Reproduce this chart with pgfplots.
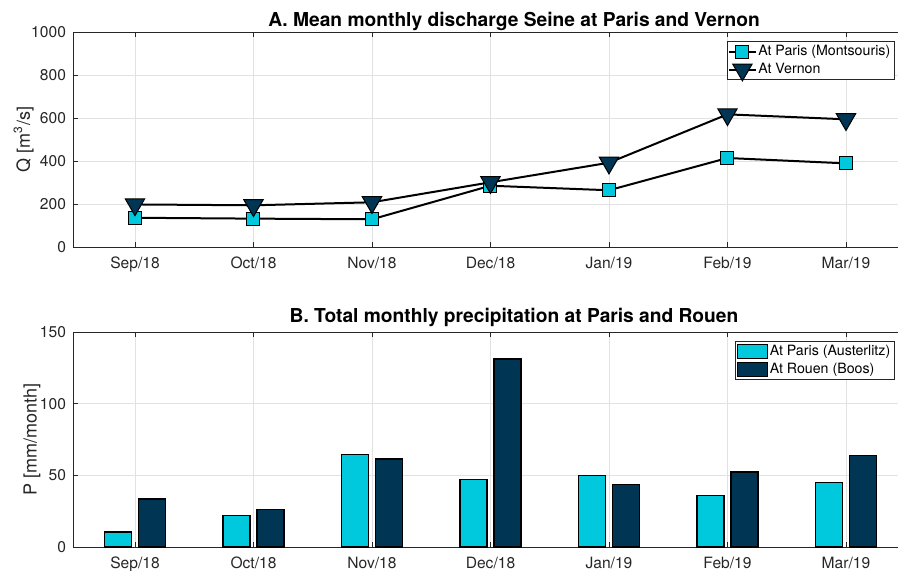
\documentclass[border=0pt]{standalone}
\usepackage{fontspec}
\setmainfont{TeX Gyre Heros}
\usepackage{pgfplots}
\pgfplotsset{compat=1.18}
\definecolor{mcyan}{RGB}{0,201,222}
\definecolor{mnavy}{RGB}{0,53,84}
\definecolor{mgray}{RGB}{38,38,38}
\definecolor{mgrid}{RGB}{226,226,226}
\pgfplotsset{
 base/.style={
  scale only axis, width=441pt, height=107.5pt, anchor=north west,
  xmin=0.477, xmax=7.92,
  xtick={1,...,7}, xticklabels={Sep/18,Oct/18,Nov/18,Dec/18,Jan/19,Feb/19,Mar/19},
  tick align=inside, major tick length=2.5pt,
  grid=major, grid style={mgrid, line width=0.4pt},
  axis line style={mgray, line width=0.4pt},
  tick style={mgray, line width=0.4pt},
  tick label style={mgray, font=\fontsize{7.8}{9}\selectfont},
  xticklabel style={yshift=-1.5pt},
  /pgf/number format/assume math mode=true,
  /pgf/number format/1000 sep={},
  title style={font=\bfseries\fontsize{9.6}{11}\selectfont, at={(axis description cs:0.5,1)}, anchor=base},
  ylabel style={mgray, font=\fontsize{9}{10}\selectfont, anchor=center},
  legend style={at={(axis description cs:0.932,0.958)}, anchor=north east, draw=mgray, line width=0.4pt, font=\fontsize{7.1}{8.5}\selectfont, inner xsep=1pt, inner ysep=0.5pt, text=black, nodes={inner sep=1.2pt}, row sep=0pt},
  legend cell align=left,
 }
}
\begin{document}
\begin{tikzpicture}
\useasboundingbox (0,0) rectangle (449pt,-285pt);
\begin{axis}[base, at={(36.5pt,-16pt)}, ymin=0, ymax=1000, ytick={0,200,...,1000},
  title={A. Mean monthly discharge Seine at Paris and Vernon},
  title style={yshift=-3pt},
  ylabel={Q [m\textsuperscript{3}/s]},
  ylabel style={at={(axis description cs:-0.056,0.5)}},
  legend image code/.code={\path[draw=none,fill=none] (0pt,-2pt) rectangle (13.5pt,2pt); \draw[overlay,mark repeat=2,mark phase=2,#1] plot coordinates {(0pt,0pt) (6.75pt,0pt) (13.5pt,0pt)};}]
\addplot[black, line width=1pt, mark=square*, mark size=3.25pt, mark options={fill=mcyan, draw=black, line width=0.5pt}] coordinates {
(1,136) (2,132) (3,129) (4,285) (5,264) (6,414) (7,389)};
\addplot[black, line width=1pt, mark=triangle*, mark size=5.6pt, mark options={fill=mnavy, draw=black, line width=0.5pt, rotate=180}] coordinates {
(1,198) (2,194) (3,208) (4,301) (5,392) (6,617) (7,594)};
\legend{At Paris (Montsouris), At Vernon}
\end{axis}
\begin{axis}[base, at={(36.5pt,-166pt)}, ymin=0, ymax=150, ytick={0,50,100,150},
  title={B. Total monthly precipitation at Paris and Rouen},
  title style={yshift=-1pt},
  ylabel={P [mm/month]},
  ylabel style={at={(axis description cs:-0.0465,0.5)}},
  legend image code/.code={\path[draw=none,fill=none] (0pt,-2pt) rectangle (15pt,2pt); \draw[overlay,#1] (0pt,-3.5pt) rectangle (15pt,3.5pt);}]
\addplot[ybar, bar width=0.23, bar shift=-0.143, fill=mcyan, draw=black, line width=0.75pt] coordinates {
(1,10.5) (2,22) (3,64.5) (4,47) (5,50) (6,36) (7,45)};
\addplot[ybar, bar width=0.23, bar shift=0.143, fill=mnavy, draw=black, line width=0.75pt] coordinates {
(1,33.5) (2,26) (3,61.5) (4,131) (5,43.5) (6,52.5) (7,64)};
\legend{At Paris (Austerlitz), At Rouen (Boos)}
\end{axis}
\end{tikzpicture}
\end{document}
